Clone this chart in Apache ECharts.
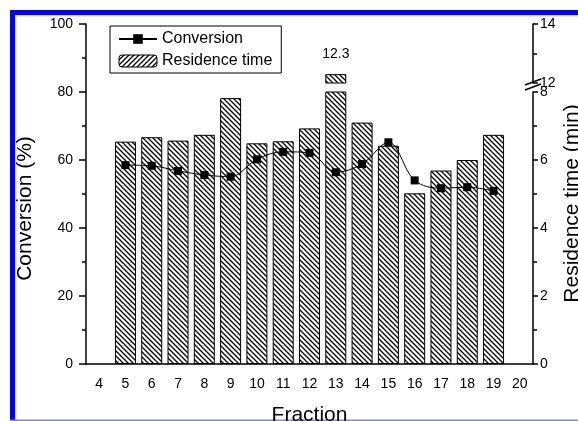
<!DOCTYPE html>
<html><head><meta charset="utf-8">
<script src="https://cdn.jsdelivr.net/npm/echarts@6/dist/echarts.min.js"></script>
<style>html,body{margin:0;padding:0;background:#fff}#c{width:578px;height:421px}</style>
</head><body><div id="c"></div>
<script>
// ---- data ----
const fractions = ['4','5','6','7','8','9','10','11','12','13','14','15','16','17','18','19','20'];
const conversion = [null,58.5,58.3,56.8,55.6,55.1,60.2,62.4,62.1,56.4,58.8,65.2,54.0,51.7,52.0,50.9,null];
const residence  = [null,6.54,6.67,6.57,6.74,7.82,6.49,6.55,6.93,12.3,7.10,6.42,5.02,5.69,6.00,6.74,null];
const convTicks = [0,20,40,60,80,100];
const timeTicksLow = [0,2,4,6,8];
const timeTicksHigh = [12,14];

const FONT = "'Liberation Sans', Arial, sans-serif";
function hatch(back){
  const s=5, c=document.createElement('canvas'); c.width=c.height=s;
  const g=c.getContext('2d'); g.fillStyle='#fff'; g.fillRect(0,0,s,s);
  g.strokeStyle='#000'; g.lineWidth=1.3; g.beginPath();
  if(back){ g.moveTo(-1,-1); g.lineTo(s+1,s+1); g.moveTo(-1,s-1); g.lineTo(1,s+1); g.moveTo(s-1,-1); g.lineTo(s+1,1); }
  else { g.moveTo(-1,s+1); g.lineTo(s+1,-1); g.moveTo(-1,1); g.lineTo(1,-1); g.moveTo(s-1,s+1); g.lineTo(s+1,s-1); }
  g.stroke(); return c;
}
const patBar = {image: hatch(true), repeat:'repeat'};
const patLeg = {image: hatch(false), repeat:'repeat'};

const lowMax = timeTicksLow[timeTicksLow.length-1];
const highMin = timeTicksHigh[0];
const lowData = residence.map(v => v==null ? '-' : v);
const highData = residence.map(v => (v!=null && v>highMin) ? {value:v, label:{show:true}} : '-');

const G = {left:86, right:45, containLabel:false, outerBoundsMode:'none'};
const chart = echarts.init(document.getElementById('c'), null, {renderer:'canvas'});
const LS = {color:'#000', width:1.5};
const hiddenX = idx => ({type:'category', gridIndex:idx, data:fractions, show:false});

chart.setOption({
  animation:false,
  backgroundColor:'#fff',
  textStyle:{fontFamily:FONT},
  grid:[
    Object.assign({top:24, bottom:57}, G),
    Object.assign({top:92, bottom:57}, G),
    Object.assign({top:24, height:59}, G)
  ],
  legend:{
    orient:'vertical', left:110, top:26, padding:[5,9,4,8], itemGap:6,
    itemWidth:38, itemHeight:12, borderColor:'#000', borderWidth:1,
    textStyle:{fontSize:16, color:'#000', fontFamily:FONT},
    data:[{name:'Conversion'}, {name:'Residence time', itemStyle:{color:patLeg, borderColor:'#000', borderWidth:1}}]
  },
  xAxis:[
    {type:'category', gridIndex:0, data:fractions, axisLine:{lineStyle:LS},
     axisTick:{alignWithLabel:true, length:6, lineStyle:LS},
     axisLabel:{color:'#000', fontSize:14, margin:13, fontFamily:FONT, interval:0},
     name:'Fraction', nameLocation:'middle', nameGap:41,
     nameTextStyle:{fontSize:21, color:'#000', fontFamily:FONT}},
    {type:'category', gridIndex:0, data:fractions, axisLine:{show:false},
     axisTick:{length:3, lineStyle:LS, interval:0}, axisLabel:{show:false}},
    hiddenX(1), hiddenX(2)
  ],
  yAxis:[
    {type:'value', gridIndex:0, position:'left', min:convTicks[0], max:convTicks[convTicks.length-1],
     interval:convTicks[1]-convTicks[0], axisLine:{show:true, lineStyle:LS},
     axisTick:{show:true, length:7, lineStyle:LS},
     minorTick:{show:true, splitNumber:2, length:4, lineStyle:LS},
     splitLine:{show:false},
     axisLabel:{color:'#000', fontSize:14, margin:13, fontFamily:FONT},
     name:'Conversion (%)', nameLocation:'middle', nameGap:50, nameRotate:90,
     nameTextStyle:{fontSize:21, color:'#000', fontFamily:FONT, padding:[0,29,0,0]}},
    {type:'value', gridIndex:0, position:'right', min:0, max:1,
     axisLine:{show:false}, axisTick:{show:false}, axisLabel:{show:false}, splitLine:{show:false},
     name:'Residence time (min)', nameLocation:'middle', nameGap:29, nameRotate:90,
     nameTextStyle:{fontSize:21, color:'#000', fontFamily:FONT, padding:[0,19,0,0]}},
    {type:'value', gridIndex:1, position:'right', min:timeTicksLow[0], max:lowMax,
     interval:timeTicksLow[1]-timeTicksLow[0], axisLine:{show:true, lineStyle:LS},
     axisTick:{show:true, length:5, lineStyle:LS},
     minorTick:{show:true, splitNumber:2, length:4, lineStyle:LS},
     splitLine:{show:false},
     axisLabel:{color:'#000', fontSize:14, margin:7, fontFamily:FONT}},
    {type:'value', gridIndex:2, position:'right', min:highMin, max:timeTicksHigh[timeTicksHigh.length-1],
     interval:timeTicksHigh[1]-timeTicksHigh[0], axisLine:{show:true, lineStyle:LS},
     axisTick:{show:true, length:5, lineStyle:LS},
     minorTick:{show:true, splitNumber:2, length:4, lineStyle:LS},
     splitLine:{show:false},
     axisLabel:{color:'#000', fontSize:14, margin:7, fontFamily:FONT}}
  ],
  series:[
    {name:'Residence time', type:'bar', xAxisIndex:2, yAxisIndex:2, data:lowData, barWidth:21,
     itemStyle:{color:patBar, borderColor:'#000', borderWidth:1}},
    {name:'Residence time (upper)', type:'bar', xAxisIndex:3, yAxisIndex:3, data:highData, barWidth:21,
     itemStyle:{color:patBar, borderColor:'#000', borderWidth:1},
     label:{show:false, position:'top', distance:13, color:'#000', fontSize:14, fontFamily:FONT}},
    {name:'Conversion', type:'line', xAxisIndex:0, yAxisIndex:0, data:conversion, smooth:0.35,
     symbol:'rect', symbolSize:8, itemStyle:{color:'#000'}, lineStyle:{color:'#000', width:1}}
  ],
  graphic:[
    {type:'rect', shape:{x:10, y:10, width:568, height:5}, style:{fill:'#0000ff'}, silent:true},
    {type:'rect', shape:{x:10, y:10, width:5, height:411}, style:{fill:'#0000ff'}, silent:true},
    {type:'rect', shape:{x:10, y:419.5, width:568, height:1.5}, style:{fill:'#8080ff'}, silent:true},
    {type:'line', shape:{x1:525, y1:85, x2:541, y2:79}, style:{stroke:'#000', lineWidth:1.5}, silent:true},
    {type:'line', shape:{x1:525, y1:90, x2:541, y2:84}, style:{stroke:'#000', lineWidth:1.5}, silent:true}
  ]
});
</script></body></html>
